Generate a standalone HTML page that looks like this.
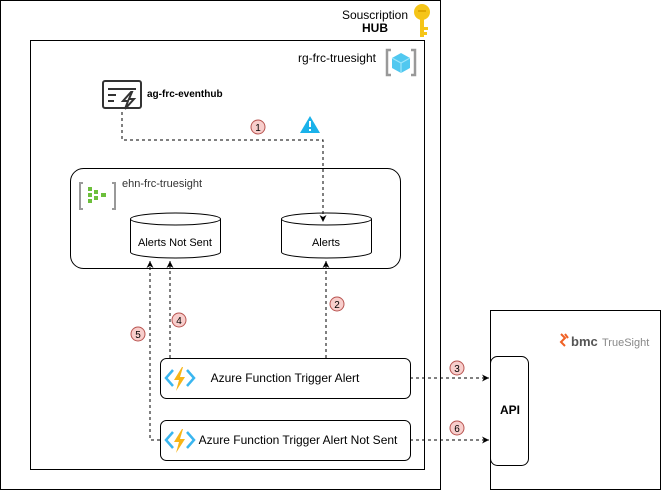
<!DOCTYPE html>
<html><head><meta charset="utf-8"><style>
body{margin:0;background:#fff;}
svg text{font-family:"Liberation Sans",sans-serif;}
</style></head><body>
<svg width="661" height="491" viewBox="0 0 661 491" xmlns="http://www.w3.org/2000/svg">
<defs><marker id="a" markerWidth="8" markerHeight="8" refX="7" refY="4" orient="auto" markerUnits="userSpaceOnUse"><path d="M0,0.5 L7,4 L0,7.5 L2,4z" fill="#000"/></marker></defs>
<rect x="0.5" y="0.5" width="440" height="489" fill="#fff" stroke="#000"/>
<rect x="30.5" y="40.5" width="394" height="429" fill="#fff" stroke="#000"/>
<rect x="490.5" y="310.5" width="170" height="179" fill="#fff" stroke="#000"/>
<text x="408" y="19" font-size="12" text-anchor="end">Souscription</text>
<text x="375" y="32" font-size="12" font-weight="bold" text-anchor="middle">HUB</text>
<g transform="translate(422,15)"><circle cx="0" cy="-3" r="8" fill="#f5c518"/><rect x="-2" y="2" width="4" height="20" fill="#f5c518"/><rect x="2" y="12" width="4" height="3" fill="#f5c518"/><rect x="2" y="17" width="3" height="3" fill="#f5c518"/><rect x="-4" y="-5" width="8" height="2" fill="#e0a800"/></g>
<text x="376" y="62" font-size="12" text-anchor="end">rg-frc-truesight</text>
<path d="M391,50 h-4 v25 h4 M411,50 h4 v25 h-4" fill="none" stroke="#999" stroke-width="2.5"/>
<path d="M401,53 l9,5 v10 l-9,5 l-9,-5 v-10z" fill="#50c8f0"/><path d="M401,63 l9,-5 M401,63 v10 M401,63 l-9,-5" stroke="#9ee6fa" stroke-width="1.2" fill="none"/>
<g fill="none" stroke="#333" stroke-width="2"><rect x="103" y="81" width="38" height="27" rx="2"/><path d="M108,89 h28 M108,95 h8 M108,101 h6"/></g>
<path d="M131,92 l-8,9 h5 l-3,8 l9,-10 h-5 l3,-7z" fill="#fff" stroke="#333" stroke-width="2"/>
<text x="147" y="97" font-size="10" font-weight="bold">ag-frc-eventhub</text>
<circle cx="258" cy="127" r="7" fill="#f8cecc" stroke="#b85450"/><text x="258" y="131" font-size="10" text-anchor="middle">1</text>
<path d="M310,116 l10,17 h-20z" fill="#1ab2ea"/><rect x="309" y="121" width="2" height="6" fill="#fff"/><rect x="309" y="129" width="2" height="2" fill="#fff"/>
<rect x="70.5" y="168.5" width="330" height="100" rx="13" fill="#fff" stroke="#000"/>
<path d="M83,183 h-3 v26 h3 M112,183 h3 v26 h-3" fill="none" stroke="#999" stroke-width="2"/>
<g fill="#6cbf3b"><rect x="88" y="187" width="4" height="4"/><rect x="88" y="193" width="4" height="4"/><rect x="88" y="199" width="4" height="4"/><rect x="94" y="190" width="4" height="4"/><rect x="94" y="196" width="4" height="4"/><rect x="101" y="193" width="5" height="4"/></g>
<text x="122" y="187" font-size="11" fill="#333">ehn-frc-truesight</text>
<g fill="#fff" stroke="#000"><path d="M130.5,219 V252 a45,6 0 0 0 90,0 V219"/><ellipse cx="175.5" cy="219" rx="45" ry="6"/><path d="M281.5,219 V252 a45,6 0 0 0 90,0 V219"/><ellipse cx="326.5" cy="219" rx="45" ry="6"/></g>
<text x="175" y="246" font-size="11" text-anchor="middle">Alerts Not Sent</text>
<text x="326" y="246" font-size="11" text-anchor="middle">Alerts</text>
<g fill="none" stroke="#000" stroke-dasharray="3,3" marker-end="url(#a)">
<path d="M122,112 V140 H323 V222"/>
<path d="M160,440 H150 V261"/><path d="M170,358 V261"/><path d="M326,358 V261"/><path d="M410,378 H489"/><path d="M410,440 H489"/>
</g>
<g font-size="10" text-anchor="middle">
<circle cx="337" cy="304" r="7" fill="#f8cecc" stroke="#b85450"/><text x="337" y="308">2</text>
<circle cx="179" cy="320" r="7" fill="#f8cecc" stroke="#b85450"/><text x="179" y="324">4</text>
<circle cx="138" cy="334" r="7" fill="#f8cecc" stroke="#b85450"/><text x="138" y="338">5</text>
<circle cx="457" cy="368" r="7" fill="#f8cecc" stroke="#b85450"/><text x="457" y="372">3</text>
<circle cx="457" cy="428" r="7" fill="#f8cecc" stroke="#b85450"/><text x="457" y="432">6</text>
</g>
<rect x="160.5" y="358.5" width="250" height="40" rx="6" fill="#fff" stroke="#000"/>
<rect x="160.5" y="420.5" width="250" height="40" rx="6" fill="#fff" stroke="#000"/>
<g id="fn"><path d="M173,370 l-7,8 l7,8 M187,370 l7,8 l-7,8" fill="none" stroke="#3ab6f0" stroke-width="2.5"/><path d="M182,367 l-8,13 h5 l-3,11 l9,-14 h-5 l3,-10z" fill="#f7b517"/></g>
<use href="#fn" transform="translate(0,62)"/>
<text x="285" y="382" font-size="12" text-anchor="middle">Azure Function Trigger Alert</text>
<text x="298" y="444" font-size="12" text-anchor="middle">Azure Function Trigger Alert Not Sent</text>
<rect x="490.5" y="356.5" width="38" height="109" rx="7" fill="#fff" stroke="#000"/>
<text x="510" y="414" font-size="12" font-weight="bold" text-anchor="middle">API</text>
<path d="M561,334 l4,4 l-4,4 l4,4 M565,334 l3,4" fill="none" stroke="#f06125" stroke-width="2"/>
<text x="571" y="346" font-size="13" font-weight="bold" fill="#555">bmc</text>
<text x="602" y="346" font-size="11" fill="#888">TrueSight</text>
</svg>
</body></html>
